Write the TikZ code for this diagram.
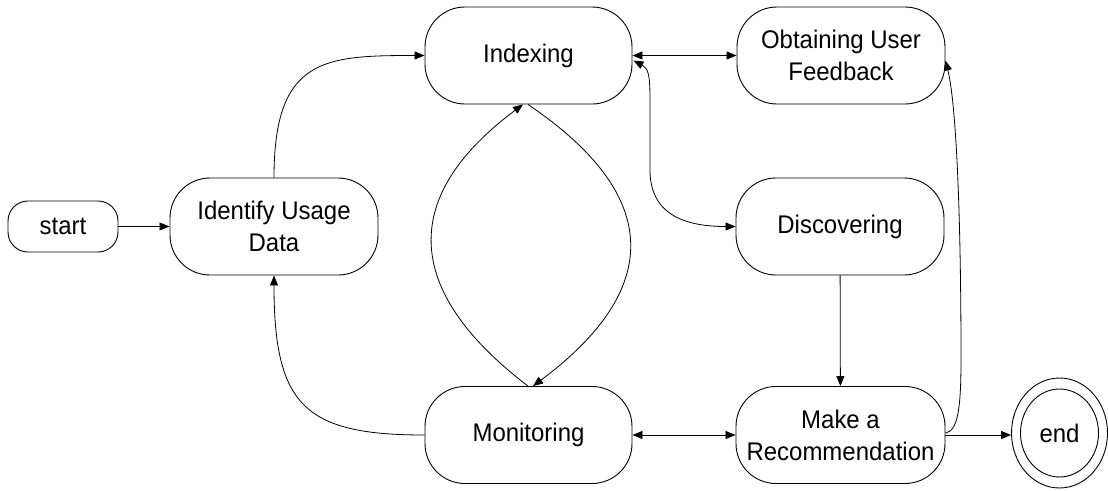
\documentclass[tikz,border=0pt]{standalone}
\usepackage{fontspec}
\setmainfont{Liberation Sans}[FakeStretch=0.94]
\usetikzlibrary{arrows.meta,shapes.geometric}

\tikzset{
  label font/.style={font=\fontsize{25.5}{32}\selectfont},
  pill/.style={draw, line width=0.9pt, rounded corners=40pt,
    minimum width=207pt, minimum height=97pt, inner sep=0pt,
    align=center, label font},
  terminal/.style={pill, minimum width=110pt, minimum height=51pt,
    rounded corners=20pt},
  finalstate/.style={draw, ellipse, line width=0.9pt, minimum width=96pt,
    minimum height=110pt, inner sep=0pt, label font},
  arr/.style={line width=0.8pt, -{Triangle[length=10pt,width=8pt]}},
  both/.style={line width=0.8pt,
    {Triangle[length=10pt,width=8pt]}-{Triangle[length=10pt,width=8pt]}}
}

\begin{document}
\begin{tikzpicture}[x=1pt, y=-1pt]
  \useasboundingbox (0,0) rectangle (1108,490);

  % states
  \node[terminal] (start) at (63,226.5) {start};
  \node[pill, minimum width=208pt] (ident) at (274,226.5) {Identify Usage\\Data};
  \node[pill] (index) at (528.5,55.5) {Indexing};
  \node[pill, minimum width=208pt] (obtain) at (841,55.5) {Obtaining User\\Feedback};
  \node[pill, minimum width=208pt] (discover) at (840,226.5) {Discovering};
  \node[pill] (monitor) at (528.5,435) {Monitoring};
  \node[pill, minimum width=209pt] (make) at (840.5,435) {Make a\\Recommendation};
  \node[finalstate] (end) at (1059.5,433) {end};
  \draw[line width=0.9pt] (end.center) ellipse [x radius=39pt, y radius=44pt];

  % transitions
  \draw[arr] (start) -- (ident);
  \draw[arr] (ident.north) .. controls +(0,-120) and +(-100,0) .. (index.west);
  \draw[arr] (monitor.west) .. controls +(-120,0) and +(0,130) .. (ident.south);

  % loop between indexing and monitoring
  \draw[arr] ([shift={(-0.5,0)}]index.south)
    .. controls +(134.5,91) and +(130,-97) .. ([shift={(4.5,0)}]monitor.north);
  \draw[arr] ([shift={(-0.5,0)}]monitor.north)
    .. controls +(-127,-97) and +(-122,91) .. ([shift={(-5.5,0)}]index.south);

  \draw[both] (index) -- (obtain);
  \draw[both] ([shift={(1,5)}]index.east) .. controls +(15,8) and +(0,-25) .. (650,100)
    -- (650,170) .. controls +(0,45) and +(-50,0) .. (discover.west);

  \draw[arr] (discover) -- (make);
  \draw[both] (monitor) -- (make);
  \draw[arr] (make.east) -- (make.east -| end.west);
  \draw[arr] ([shift={(0,-2)}]make.east) .. controls +(12,-2) and +(0,50) .. (961,360)
    .. controls +(0,-160) and +(10,40) .. ([shift={(0,5)}]obtain.east);
\end{tikzpicture}
\end{document}
